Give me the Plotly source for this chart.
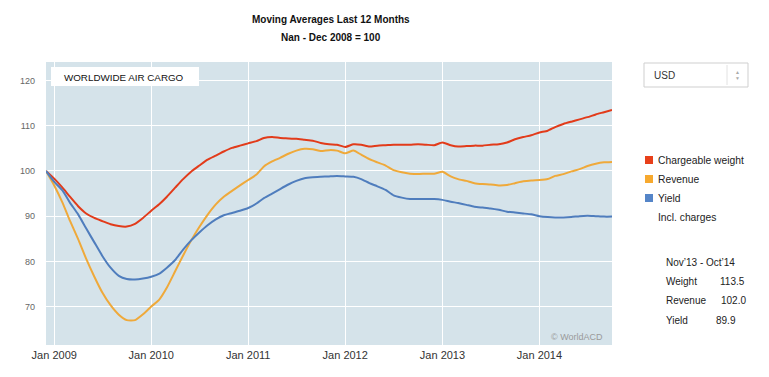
import pandas as pd
import plotly.graph_objects as go

# Monthly points, Dec 2008 .. Oct 2014 (12-month moving averages, Jan-Dec 2008 = 100)
months = pd.date_range("2008-12-01", "2014-10-01", freq="MS")

chargeable_weight = [
    100.0, 98.3, 96.3, 94.3, 92.2, 90.6, 89.6, 88.9, 88.2, 87.8, 87.7, 88.3,
    89.6, 91.2, 92.7, 94.3, 96.3, 98.2, 99.9, 101.2, 102.5, 103.4, 104.3, 105.1,
    105.6, 106.1, 106.6, 107.3, 107.5, 107.3, 107.2, 107.1, 106.9, 106.7, 106.2, 105.9,
    105.8, 105.3, 105.9, 105.8, 105.4, 105.6, 105.7, 105.8, 105.8, 105.8, 105.9, 105.8,
    105.7, 106.3, 105.7, 105.4, 105.5, 105.6, 105.6, 105.8, 105.9, 106.3, 107.0, 107.5,
    107.9, 108.5, 108.9, 109.7, 110.4, 110.9, 111.4, 111.9, 112.5, 113.0, 113.5,
]
revenue = [
    100.0, 96.8, 93.0, 89.0, 84.9, 80.6, 76.6, 73.1, 70.3, 68.2, 67.0, 67.0,
    68.3, 70.0, 71.6, 74.2, 77.8, 81.3, 84.7, 87.6, 90.3, 92.6, 94.3, 95.6,
    96.8, 98.0, 99.2, 101.0, 102.1, 102.9, 103.8, 104.5, 104.9, 104.8, 104.4, 104.6,
    104.5, 103.9, 104.5, 103.6, 102.6, 101.9, 101.2, 100.2, 99.7, 99.4, 99.3, 99.4,
    99.4, 99.8, 98.8, 98.2, 97.8, 97.3, 97.1, 97.0, 96.8, 96.9, 97.3, 97.7,
    97.9, 98.0, 98.2, 98.9, 99.3, 99.9, 100.4, 101.1, 101.6, 101.9, 102.0,
]
yield_ = [
    100.0, 97.6, 95.7, 93.0, 90.4, 87.3, 84.2, 81.2, 78.6, 76.8, 76.1, 76.0,
    76.2, 76.6, 77.3, 78.6, 80.3, 82.6, 84.7, 86.4, 88.0, 89.3, 90.2, 90.7,
    91.2, 91.8, 92.8, 94.0, 95.0, 96.0, 97.0, 97.8, 98.4, 98.6, 98.7, 98.8,
    98.9, 98.8, 98.7, 98.2, 97.3, 96.6, 95.8, 94.6, 94.1, 93.8, 93.8, 93.8,
    93.8, 93.6, 93.2, 92.9, 92.5, 92.1, 91.9, 91.7, 91.4, 91.0, 90.8, 90.6,
    90.4, 90.0, 89.8, 89.7, 89.7, 89.8, 90.0, 90.1, 90.0, 89.9, 89.9,
]

series_names = ["Chargeable weight", "Revenue", "Yield"]
series_values = [chargeable_weight, revenue, yield_]
line_colors = ["#e23b1a", "#efa93a", "#4f7dbd"]
legend_colors = ["#e8401a", "#f7a92e", "#5585c8"]

y_ticks = [70, 80, 90, 100, 110, 120]
x_ticks = pd.date_range("2009-01-01", "2014-01-01", freq="YS")
x_tick_labels = ["Jan 2009", "Jan 2010", "Jan 2011", "Jan 2012", "Jan 2013", "Jan 2014"]

stats_period = "Nov\u201913 - Oct\u201914"
stats_labels = ["Weight", "Revenue", "Yield"]
stats_values = ["113.5", "102.0", "89.9"]

FONT = "Liberation Sans, Arial, sans-serif"
W, H = 769, 377
L, R, T, B = 46, 157, 62, 32
PW, PH = W - L - R, H - T - B

fig = go.Figure()
for name, vals, col in zip(series_names, series_values, line_colors):
    fig.add_trace(go.Scatter(
        x=months, y=vals, name=name, mode="lines",
        line=dict(color=col, width=2, shape="spline", smoothing=0.5),
        hoverinfo="skip",
    ))

fig.update_layout(
    width=W, height=H,
    margin=dict(l=L, r=R, t=T, b=B, pad=0),
    paper_bgcolor="white",
    plot_bgcolor="#d5e3ea",
    showlegend=False,
    font=dict(family=FONT, color="#333"),
    xaxis=dict(
        range=[months[0], months[-1]],
        tickvals=x_ticks, ticktext=x_tick_labels,
        showgrid=True, gridcolor="white", gridwidth=1,
        zeroline=False, showline=False, ticks="",
        tickfont=dict(size=11, color="#333"),
        ticklabelstandoff=2,
    ),
    yaxis=dict(
        range=[61.5, 124.1],
        tickvals=y_ticks,
        showgrid=True, gridcolor="white", gridwidth=1,
        zeroline=False, showline=False, ticks="",
        tickfont=dict(size=9, color="#666"),
        ticklabelstandoff=10,
    ),
)


def px(x):
    return (x - L) / PW


def py(y):
    return (H - B - y) / PH


ann = []


def text(t, x, y, size=10.3, color="#222", anchor="left", bold=False):
    if bold:
        t = "<b>" + t + "</b>"
    ann.append(dict(text=t, x=px(x), y=py(y), xref="paper", yref="paper",
                    showarrow=False, xanchor=anchor, yanchor="middle",
                    font=dict(size=size, color=color, family=FONT)))


# Title
text("Moving Averages Last 12 Months", 331, 19, size=10, color="#111", anchor="center", bold=True)
text("Nan - Dec 2008 = 100", 331, 37, size=10, color="#111", anchor="center", bold=True)

shapes = []
# WORLDWIDE AIR CARGO box
shapes.append(dict(type="rect", xref="paper", yref="paper",
                   x0=px(51), x1=px(199), y0=py(86), y1=py(67),
                   fillcolor="white", line=dict(width=0), layer="above"))
text("WORLDWIDE AIR CARGO", 62, 77, size=9.8, color="#111")
# copyright
text("\u00a9 WorldACD", 605, 337, size=9, color="#9a9a9a", anchor="right")

# USD dropdown
shapes.append(dict(type="rect", xref="paper", yref="paper",
                   x0=px(644), x1=px(748), y0=py(87), y1=py(63),
                   fillcolor="white", line=dict(color="#cfcfcf", width=1)))
shapes.append(dict(type="line", xref="paper", yref="paper",
                   x0=px(727), x1=px(727), y0=py(85), y1=py(65),
                   line=dict(color="#e2e2e2", width=1)))
text("USD", 652, 75, size=10, color="#333")
text("\u25b2", 737.5, 72, size=5, color="#aaa", anchor="center")
text("\u25bc", 737.5, 78, size=5, color="#aaa", anchor="center")

# Custom legend
legend_y = [160, 179, 198]
for name, col, ly in zip(series_names, legend_colors, legend_y):
    shapes.append(dict(type="rect", xref="paper", yref="paper",
                       x0=px(645), x1=px(653), y0=py(ly + 4), y1=py(ly - 4),
                       fillcolor=col, line=dict(width=0)))
    text(name, 656, ly)
text("Incl. charges", 656, 218)

# Stats block
text(stats_period, 664, 262, size=10)
stats_y = [281, 300, 320]
value_left = [718, 719, 714]
for lab, val, sy, vl in zip(stats_labels, stats_values, stats_y, value_left):
    text(lab, 664, sy, size=10)
    text(val, vl, sy, size=10)

fig.update_layout(annotations=ann, shapes=shapes)
fig.write_html("out.html", post_script="document.body.style.margin='0';",
               config={"displayModeBar": False})
